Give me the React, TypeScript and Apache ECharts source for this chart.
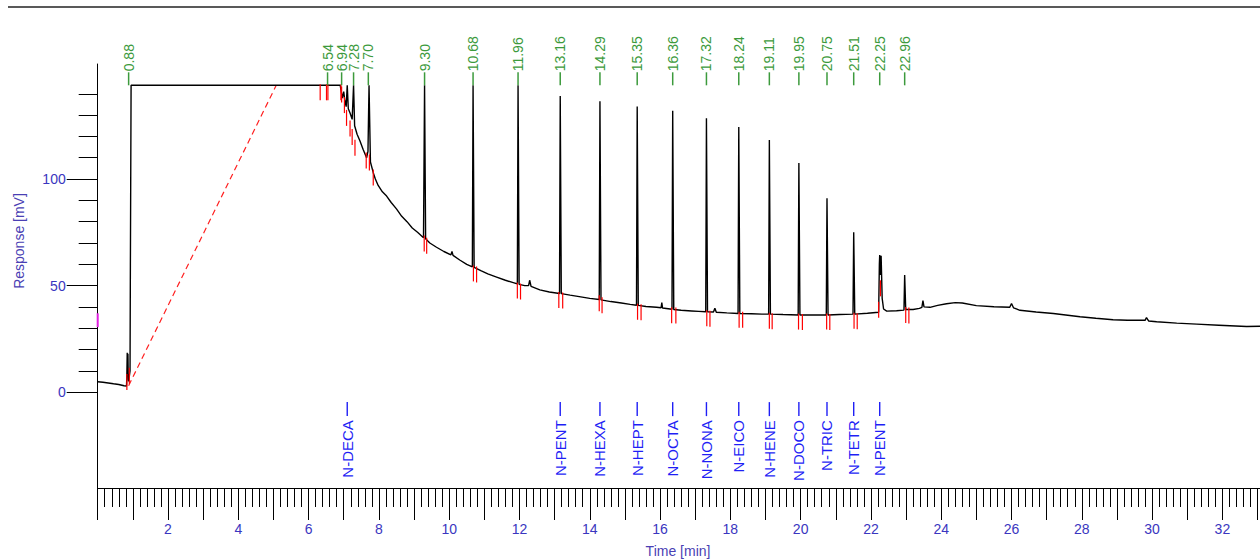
import React, { useEffect, useRef } from "react";
import * as echarts from "echarts";

// ---------- data ----------
const clipLevel = 144; // detector saturation level (mV)

// chromatogram trace: [time (min), response (mV)]
const trace: number[][] = [
  [0.0, 4.9], [0.15, 4.6], [0.3, 4.3], [0.45, 3.9], [0.6, 3.6], [0.75, 3.0], [0.82, 2.8],
  [0.83, 8], [0.84, 18.5], [0.85, 12], [0.86, 18], [0.87, 6], [0.88, 5], [0.92, 10], [0.93, 60], [0.95, 144],
  [6.9, 144], [6.96, 138], [7.0, 141], [7.03, 137], [7.07, 134], [7.1, 144], [7.13, 133], [7.18, 131],
  [7.24, 128], [7.28, 144], [7.31, 125], [7.38, 121], [7.46, 118], [7.55, 114], [7.65, 110], [7.69, 113],
  [7.72, 144], [7.76, 108], [7.84, 103], [7.9, 100], [7.98, 97], [8.1, 94], [8.22, 92], [8.35, 89],
  [8.5, 86], [8.65, 82.5], [8.8, 80], [8.95, 77], [9.1, 75], [9.27, 72.5], [9.3, 144], [9.33, 72],
  [9.45, 70], [9.64, 68], [9.85, 66], [10.05, 64.4], [10.08, 66], [10.11, 64.2], [10.3, 62], [10.5, 60],
  [10.66, 58.8], [10.68, 144], [10.71, 58.5], [10.9, 57], [11.1, 55.5], [11.35, 54], [11.6, 52.5],
  [11.8, 51.5], [11.94, 50.8], [11.96, 144], [11.99, 50.6], [12.15, 50], [12.26, 50], [12.29, 52.5],
  [12.33, 49.6], [12.58, 48], [12.85, 47], [13.14, 46.3], [13.16, 139], [13.19, 46.2], [13.44, 45.5],
  [13.7, 44.8], [14.0, 44], [14.27, 43.5], [14.29, 136.5], [14.32, 43.3], [14.6, 42.5], [14.9, 41.8],
  [15.15, 41.2], [15.33, 40.8], [15.35, 134], [15.38, 40.7], [15.6, 40.2], [15.9, 39.8], [16.03, 39.6],
  [16.05, 42], [16.07, 39.5], [16.34, 38.9], [16.36, 132], [16.39, 38.8], [16.6, 38.4], [16.9, 38.1],
  [17.1, 37.9], [17.3, 37.7], [17.32, 128.5], [17.35, 37.7], [17.52, 37.6], [17.56, 39.4], [17.6, 37.5],
  [17.9, 37.2], [18.22, 36.9], [18.24, 124.4], [18.27, 36.9], [18.6, 36.8], [18.9, 36.6], [19.09, 36.6],
  [19.11, 118.3], [19.14, 36.6], [19.5, 36.4], [19.93, 36.2], [19.95, 107.5], [19.98, 36.2], [20.3, 36.2],
  [20.73, 36.2], [20.75, 91], [20.78, 36.2], [21.1, 36.4], [21.49, 36.6], [21.51, 75], [21.54, 36.6],
  [21.9, 37], [22.22, 37.5], [22.24, 60], [22.25, 64.3], [22.27, 55], [22.29, 64], [22.32, 44],
  [22.36, 39], [22.45, 38], [22.73, 38.2], [22.94, 38.5], [22.96, 55], [22.99, 38.8], [23.2, 38.8],
  [23.38, 39.3], [23.45, 39.8], [23.48, 43], [23.51, 40], [23.68, 39.8], [23.9, 40.7], [24.15, 41.5],
  [24.4, 42], [24.6, 41.8], [25.0, 40.6], [25.5, 40.1], [25.95, 39.8], [26.0, 41.6], [26.06, 39.5],
  [26.24, 38.4], [26.7, 37.6], [27.19, 36.9], [27.6, 36.1], [27.95, 35.4], [28.4, 34.7], [28.89, 34],
  [29.3, 33.7], [29.8, 33.7], [29.84, 35], [29.9, 33.4], [30.13, 33], [30.7, 32.4], [31.27, 31.9],
  [31.9, 31.4], [32.69, 30.8], [33.07, 30.9],
];

// integration baseline drawn dashed
const dashedBaseline: number[][] = [[0.88, 3], [5.08, 144]];

// retention times labelled above the trace
const retentionTimes = [
  0.88, 6.54, 6.94, 7.28, 7.7, 9.3, 10.68, 11.96, 13.16, 14.29, 15.35, 16.36, 17.32, 18.24, 19.11,
  19.95, 20.75, 21.51, 22.25, 22.96,
];

// compound names and their times
const compoundNames = [
  "N-DECA", "N-PENT", "N-HEXA", "N-HEPT", "N-OCTA", "N-NONA", "N-EICO", "N-HENE", "N-DOCO",
  "N-TRIC", "N-TETR", "N-PENT",
];
const compoundTimes = [7.1, 13.16, 14.29, 15.35, 16.36, 17.32, 18.24, 19.11, 19.95, 20.75, 21.51, 22.25];

// peak start / end markers: [time, mV at top of marker]
const peakMarks: number[][] = [
  [0.83, 8], [0.9, 11], [6.33, 144], [6.51, 144], [6.55, 144], [6.92, 144], [6.94, 143], [7.02, 138],
  [7.08, 132], [7.18, 127], [7.24, 123], [7.32, 118], [7.64, 112], [7.73, 111], [7.84, 104],
  [9.29, 73], [9.36, 72], [10.69, 59], [10.78, 58.5], [11.94, 51], [12.03, 50.5], [13.12, 46.5],
  [13.23, 46.3], [14.27, 45], [14.35, 44], [15.36, 41], [15.46, 40.8], [16.33, 39.4], [16.45, 39.2],
  [17.33, 37.9], [17.42, 37.7], [18.25, 37.3], [18.35, 37.2], [19.11, 36.8], [19.19, 36.6],
  [19.94, 36.4], [20.05, 36.2], [20.74, 36.4], [20.83, 36.2], [21.52, 36.8], [21.61, 36.6],
  [22.22, 42], [22.27, 52], [22.99, 39.5], [23.08, 39.3],
];

// magenta marker on the response axis: [time, mV]
const axisMarker: number[][] = [[0, 30.5], [0, 37]];

// axis ticks
const yMajorTicks = [0, 50, 100];
const yMinorTicks = [10, 20, 30, 40, 60, 70, 80, 90, 110, 120, 130, 140];
const xMin = 0;
const xMax = 33.07;
const yMin = -45;
const yMax = 154;

// ---------- styling ----------
const FONT = "'Liberation Sans', Arial, sans-serif";
const GREEN = "#3c9a3c";
const BLUE = "#1f1ff5";
const AXIS_TEXT = "#3a36c0";
const TITLE_TEXT = "#4a3fb4";

export default function App() {
  const ref = useRef<HTMLDivElement>(null);

  useEffect(() => {
    if (!ref.current) return;
    const chart = echarts.init(ref.current, undefined, { renderer: "svg" });

    const option: any = {
      animation: false,
      backgroundColor: "#ffffff",
      grid: { left: 97.7, right: 0, top: 64, bottom: 72, containLabel: false, outerBoundsMode: "none" },
      xAxis: {
        type: "value",
        min: xMin,
        max: xMax,
        interval: 1,
        axisLine: { show: true, onZero: false, lineStyle: { color: "#000", width: 1 } },
        axisTick: { show: true, length: 32, lineStyle: { color: "#000", width: 1 } },
        minorTick: { show: true, splitNumber: 5, length: 19, lineStyle: { color: "#000", width: 1 } },
        axisLabel: {
          margin: 34,
          color: AXIS_TEXT,
          fontSize: 14,
          fontFamily: FONT,
          showMaxLabel: false,
          formatter: (v: number) => (v > 0 && Math.abs(v % 2) < 1e-6 ? String(v) : ""),
        },
        splitLine: { show: false },
      },
      yAxis: [
        {
          type: "value",
          min: yMin,
          max: yMax,
          axisLine: { show: true, onZero: false, lineStyle: { color: "#000", width: 1 } },
          axisTick: { show: true, length: 31, customValues: yMajorTicks, lineStyle: { color: "#000" } },
          axisLabel: { customValues: yMajorTicks, margin: 32, color: AXIS_TEXT, fontSize: 14, fontFamily: FONT },
          splitLine: { show: false },
        },
        {
          type: "value",
          min: yMin,
          max: yMax,
          position: "left",
          axisLine: { show: false, onZero: false },
          axisTick: { show: true, length: 19, customValues: yMinorTicks, lineStyle: { color: "#000" } },
          axisLabel: { show: false },
          splitLine: { show: false },
        },
      ],
      graphic: [
        { type: "line", shape: { x1: 8, y1: 7, x2: 1260, y2: 7 }, style: { stroke: "#222", lineWidth: 1.5 } },
        {
          type: "text",
          x: 19,
          y: 241,
          rotation: Math.PI / 2,
          style: { text: "Response [mV]", align: "center", verticalAlign: "middle", fill: TITLE_TEXT, fontSize: 14, fontFamily: FONT },
        },
        {
          type: "text",
          x: 678,
          y: 551,
          style: { text: "Time [min]", align: "center", verticalAlign: "middle", fill: TITLE_TEXT, fontSize: 14, fontFamily: FONT },
        },
      ],
      series: [
        {
          type: "line",
          data: dashedBaseline,
          showSymbol: false,
          symbol: "none",
          lineStyle: { color: "#ff2020", width: 1.2, type: [6, 4] },
          z: 2,
        },
        {
          type: "line",
          data: trace,
          showSymbol: false,
          symbol: "none",
          lineStyle: { color: "#000", width: 1.4 },
          z: 3,
        },
        {
          type: "custom",
          data: peakMarks,
          clip: false,
          z: 4,
          renderItem: (params: any, api: any) => {
            const p = api.coord([api.value(0), api.value(1)]);
            return {
              type: "line",
              shape: { x1: p[0], y1: p[1] - 1, x2: p[0], y2: p[1] + 15 },
              style: { stroke: "#ff0000", lineWidth: 1.2 },
            };
          },
        },
        {
          type: "custom",
          data: retentionTimes.map((t) => [t, clipLevel]),
          clip: false,
          z: 5,
          renderItem: (params: any, api: any) => {
            const t = api.value(0);
            const p = api.coord([t, api.value(1)]);
            return {
              type: "group",
              children: [
                {
                  type: "line",
                  shape: { x1: p[0], y1: p[1], x2: p[0], y2: p[1] - 13 },
                  style: { stroke: GREEN, lineWidth: 1.5 },
                },
                {
                  type: "text",
                  x: p[0],
                  y: p[1] - 14,
                  rotation: Math.PI / 2,
                  style: {
                    text: retentionTimes[params.dataIndex].toFixed(2),
                    align: "left",
                    verticalAlign: "middle",
                    fill: GREEN,
                    fontSize: 14,
                    fontFamily: FONT,
                  },
                },
              ],
            };
          },
        },
        {
          type: "custom",
          data: compoundTimes.map((t) => [t, 0]),
          clip: false,
          z: 5,
          renderItem: (params: any, api: any) => {
            const p = api.coord([api.value(0), api.value(1)]);
            return {
              type: "group",
              children: [
                {
                  type: "line",
                  shape: { x1: p[0], y1: p[1] + 10, x2: p[0], y2: p[1] + 24 },
                  style: { stroke: BLUE, lineWidth: 1.4 },
                },
                {
                  type: "text",
                  x: p[0],
                  y: p[1] + 28,
                  rotation: Math.PI / 2,
                  style: {
                    text: compoundNames[params.dataIndex],
                    align: "right",
                    verticalAlign: "middle",
                    fill: BLUE,
                    fontSize: 15,
                    fontFamily: FONT,
                  },
                },
              ],
            };
          },
        },
        {
          type: "line",
          data: axisMarker,
          showSymbol: false,
          symbol: "none",
          clip: false,
          lineStyle: { color: "#e020e0", width: 2 },
          z: 6,
        },
      ],
    };

    chart.setOption(option);
    return () => chart.dispose();
  }, []);

  return (
    <div
      ref={ref}
      style={{ position: "absolute", left: 0, top: 0, width: 1260, height: 560, background: "#fff" }}
    />
  );
}
